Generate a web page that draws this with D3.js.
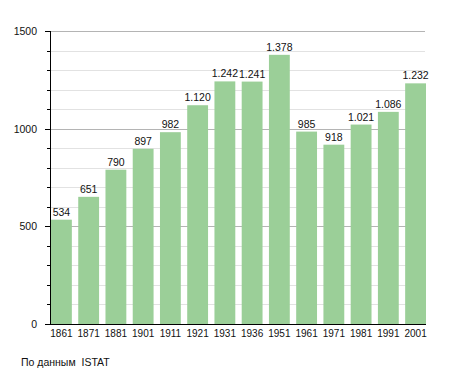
<!DOCTYPE html>
<html>
<head>
<meta charset="utf-8">
<script src="https://cdn.jsdelivr.net/npm/d3@7"></script>
<style>
  body { margin: 0; background: #fff; }
  text { font-family: "Liberation Sans", Arial, sans-serif; }
</style>
</head>
<body>
<div id="chart"></div>
<script>
var years = ["1861","1871","1881","1901","1911","1921","1931","1936","1951","1961","1971","1981","1991","2001"];
var population = [534, 651, 790, 897, 982, 1120, 1242, 1241, 1378, 985, 918, 1021, 1086, 1232];
var yTicks = [0, 500, 1000, 1500];
var source = "По данным  ISTAT";

var W = 455, H = 373;
var mLeft = 50, mRight = 426, mTop = 31, mBottom = 324;

var svg = d3.select("#chart").append("svg")
    .attr("width", W)
    .attr("height", H);

var x = d3.scaleBand()
    .domain(years)
    .range([mLeft + 1, mRight])
    .paddingInner(0.235)
    .paddingOuter(0);

var y = d3.scaleLinear()
    .domain([0, 1500])
    .range([mBottom, mTop]);

var fmt = function(v) { return d3.format(",")(v).replace(/,/g, "."); };

// gridlines every 100
var minor = d3.range(100, 1501, 100);
svg.append("g")
  .selectAll("line")
  .data(minor)
  .join("line")
    .attr("x1", mLeft)
    .attr("x2", mRight - 1)
    .attr("y1", d => Math.round(y(d)) + 0.5)
    .attr("y2", d => Math.round(y(d)) + 0.5)
    .attr("stroke", d => d % 500 === 0 ? "#b4b4b4" : "#e2e2e2")
    .attr("stroke-width", 1);

// bars
svg.append("g")
    .attr("fill", "#9bcf98")
  .selectAll("rect")
  .data(population)
  .join("rect")
    .attr("x", (d, i) => x(years[i]))
    .attr("y", d => y(d))
    .attr("width", x.bandwidth())
    .attr("height", d => mBottom - y(d));

// value labels
svg.append("g")
  .selectAll("text")
  .data(population)
  .join("text")
    .attr("x", (d, i) => x(years[i]) + x.bandwidth() / 2)
    .attr("y", d => y(d) - 4)
    .attr("text-anchor", "middle")
    .attr("font-size", 10.5)
    .attr("fill", "#111")
    .text(d => fmt(d));

// y axis
var yAxis = svg.append("g");
yAxis.append("line")
    .attr("x1", mLeft + 0.5).attr("x2", mLeft + 0.5)
    .attr("y1", mTop).attr("y2", mBottom + 1)
    .attr("stroke", "#000");
yAxis.selectAll("line.tick")
  .data(d3.range(0, 1501, 100))
  .join("line")
    .attr("class", "tick")
    .attr("x1", d => d % 500 === 0 ? mLeft - 5 : mLeft - 3)
    .attr("x2", mLeft)
    .attr("y1", d => Math.round(y(d)) + 0.5)
    .attr("y2", d => Math.round(y(d)) + 0.5)
    .attr("stroke", "#000");
yAxis.selectAll("text.lbl")
  .data(yTicks)
  .join("text")
    .attr("class", "lbl")
    .attr("x", 37)
    .attr("y", d => y(d) + 4)
    .attr("text-anchor", "end")
    .attr("font-size", 10.5)
    .attr("fill", "#111")
    .text(d => d);

// x axis
svg.append("line")
    .attr("x1", mLeft).attr("x2", mRight)
    .attr("y1", mBottom + 0.5).attr("y2", mBottom + 0.5)
    .attr("stroke", "#000");
svg.append("g")
  .selectAll("text")
  .data(years)
  .join("text")
    .attr("x", d => x(d) + x.bandwidth() / 2)
    .attr("y", mBottom + 13)
    .attr("text-anchor", "middle")
    .attr("font-size", 10)
    .attr("fill", "#111")
    .text(d => d);

svg.append("text")
    .attr("x", 21)
    .attr("y", 366)
    .attr("font-size", 10.5)
    .attr("fill", "#111")
    .style("white-space", "pre")
    .text(source);
</script>
</body>
</html>
